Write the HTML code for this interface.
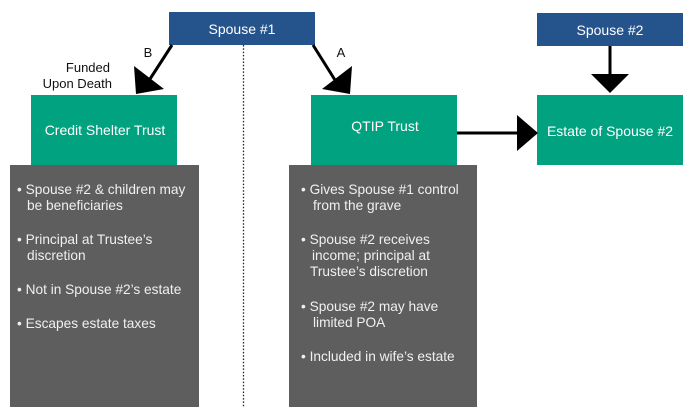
<!DOCTYPE html>
<html><head><meta charset="utf-8"><style>
html,body{margin:0;padding:0;background:#fff;}
svg{display:block;}
text{font-family:"Liberation Sans",Arial,sans-serif;}
</style></head><body>
<svg width="689" height="414" viewBox="0 0 689 414" xmlns="http://www.w3.org/2000/svg">
<rect width="689" height="414" fill="#fff"/>
<line x1="243.5" y1="45" x2="243.5" y2="407" stroke="#222" stroke-width="1.3" stroke-dasharray="1.5,1.8"/>
<rect x="169" y="12" width="146" height="33" fill="#25548c"/>
<text x="242" y="34" font-size="14" fill="#fff" text-anchor="middle">Spouse #1</text>
<rect x="537" y="13" width="146" height="33" fill="#25548c"/>
<text x="610" y="35" font-size="14" fill="#fff" text-anchor="middle">Spouse #2</text>
<rect x="31" y="95" width="146" height="70" fill="#00a27f"/>
<text x="105" y="135" font-size="14" fill="#fff" text-anchor="middle">Credit Shelter Trust</text>
<rect x="311" y="95" width="146" height="70" fill="#00a27f"/>
<text x="385" y="131" font-size="14" fill="#fff" text-anchor="middle">QTIP Trust</text>
<rect x="537" y="95" width="146" height="70" fill="#00a27f"/>
<text x="610" y="136" font-size="14" fill="#fff" text-anchor="middle">Estate of Spouse #2</text>
<rect x="10" y="165" width="189" height="242" fill="#5e5e5e"/>
<rect x="289" y="165" width="188" height="242" fill="#5e5e5e"/>
<g font-size="13.7" fill="#f0f0f0">
<text x="17" y="194">• Spouse #2 &amp; children may</text>
<text x="27" y="210">be beneficiaries</text>
<text x="17" y="244">• Principal at Trustee’s</text>
<text x="27" y="260">discretion</text>
<text x="17" y="294">• Not in Spouse #2’s estate</text>
<text x="17" y="328">• Escapes estate taxes</text>
<text x="301" y="194">• Gives Spouse #1 control</text>
<text x="313" y="210">from the grave</text>
<text x="301" y="244">• Spouse #2 receives</text>
<text x="312" y="260">income; principal at</text>
<text x="310" y="276">Trustee’s discretion</text>
<text x="301" y="311">• Spouse #2 may have</text>
<text x="313" y="327">limited POA</text>
<text x="301" y="361">• Included in wife’s estate</text>
</g>
<g font-size="13" fill="#111">
<text x="148" y="57" text-anchor="middle">B</text>
<text x="341" y="57" text-anchor="middle">A</text>
<text x="110" y="72" text-anchor="end">Funded</text>
<text x="112" y="88" text-anchor="end">Upon Death</text>
</g>
<line x1="172" y1="45" x2="150" y2="79" stroke="#000" stroke-width="3"/>
<polygon points="134,66 164,89 136,94" fill="#000"/>
<line x1="313" y1="45" x2="335" y2="80" stroke="#000" stroke-width="3"/>
<polygon points="352,66 322,89 350,94" fill="#000"/>
<line x1="457" y1="133" x2="520" y2="133" stroke="#000" stroke-width="3"/>
<polygon points="517,115 538,133 517,151" fill="#000"/>
<line x1="610" y1="46" x2="610" y2="76" stroke="#000" stroke-width="3"/>
<polygon points="591,74 629,74 610,93" fill="#000"/>
</svg>
</body></html>
